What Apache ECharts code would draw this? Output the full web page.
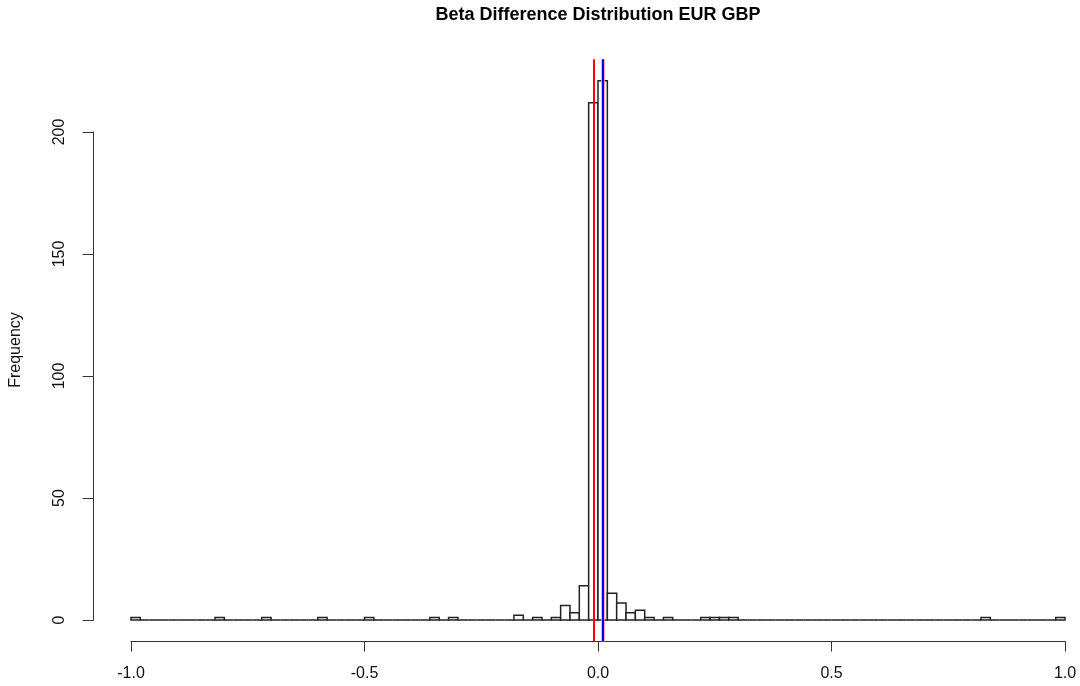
<!DOCTYPE html>
<html>
<head>
<meta charset="utf-8">
<script src="https://cdn.jsdelivr.net/npm/echarts@6/dist/echarts.min.js"></script>
<style>
  html, body { margin: 0; padding: 0; background: #fff; }
  #chart { width: 1080px; height: 686px; }
</style>
</head>
<body>
<div id="chart"></div>
<script>
// histogram bins: width 0.02 from -1 to 1
const binStart = -1
const binWidth = 0.02
const counts = [
  1, 0, 0, 0, 0, 0, 0, 0, 0, 1,
  0, 0, 0, 0, 1, 0, 0, 0, 0, 0,
  1, 0, 0, 0, 0, 1, 0, 0, 0, 0,
  0, 0, 1, 0, 1, 0, 0, 0, 0, 0,
  0, 2, 0, 1, 0, 1, 6, 3, 14, 212,
  221, 11, 7, 3, 4, 1, 0, 1, 0, 0,
  0, 1, 1, 1, 1, 0, 0, 0, 0, 0,
  0, 0, 0, 0, 0, 0, 0, 0, 0, 0,
  0, 0, 0, 0, 0, 0, 0, 0, 0, 0,
  0, 1, 0, 0, 0, 0, 0, 0, 0, 1
]
const xTicks = [-1, -0.5, 0, 0.5, 1]
const yTicks = [0, 50, 100, 150, 200]
// vertical reference lines (abline)
const redLines = [-0.010, 0.0065]
const blueLines = [0.0065]

const titleText = 'Beta Difference Distribution EUR GBP'
const yLabel = 'Frequency'

const binData = counts.map((c, i) => {
  const lo = +(binStart + i * binWidth).toFixed(2)
  return [lo, +(lo + binWidth).toFixed(2), c]
})

const FONT = 'Liberation Sans, Arial, Helvetica, sans-serif'

const chart = echarts.init(document.getElementById('chart'))

const option = {
  animation: false,
  backgroundColor: '#fff',
  grid: [
    // plot region (R usr coordinates, 4% padding)
    { left: 93.6, top: 59.2, width: 1008.8, height: 582.4, outerBoundsMode: 'none', containLabel: false },
    // x axis from -1 to 1
    { left: 131, top: 59.2, width: 934, height: 582.4, outerBoundsMode: 'none', containLabel: false },
    // y axis from 0 to 200
    { left: 93.6, top: 132, width: 100, height: 488, outerBoundsMode: 'none', containLabel: false }
  ],
  xAxis: [
    { gridIndex: 0, type: 'value', min: -1.08, max: 1.08, show: false },
    {
      gridIndex: 1, type: 'value', min: xTicks[0], max: xTicks[xTicks.length - 1], interval: 0.5,
      position: 'bottom',
      axisLine: { show: true, lineStyle: { color: '#333', width: 1 } },
      axisTick: { show: true, length: 10, inside: false, lineStyle: { color: '#333', width: 1 } },
      axisLabel: {
        show: true, margin: 24, color: '#111', fontSize: 16, fontFamily: FONT,
        formatter: v => v.toFixed(1),
        showMinLabel: true, showMaxLabel: true
      },
      splitLine: { show: false }
    },
    { gridIndex: 2, type: 'value', min: 0, max: 1, show: false }
  ],
  yAxis: [
    { gridIndex: 0, type: 'value', min: -8.84, max: 229.84, show: false },
    { gridIndex: 1, type: 'value', min: 0, max: 1, show: false },
    {
      gridIndex: 2, type: 'value', min: yTicks[0], max: yTicks[yTicks.length - 1], interval: 50,
      position: 'left',
      axisLine: { show: true, lineStyle: { color: '#333', width: 1 } },
      axisTick: { show: true, length: 11, inside: false, lineStyle: { color: '#333', width: 1 } },
      axisLabel: {
        show: true, margin: 26, rotate: 90, color: '#111', fontSize: 16, fontFamily: FONT,
        showMinLabel: true, showMaxLabel: true
      },
      splitLine: { show: false }
    }
  ],
  graphic: [
    {
      type: 'text', x: 598, y: 15,
      style: { text: titleText, font: 'bold 18px ' + FONT, fill: '#000', textAlign: 'center', textVerticalAlign: 'middle' }
    },
    {
      type: 'text', x: 16, y: 350, rotation: Math.PI / 2,
      style: { text: yLabel, font: '16px ' + FONT, fill: '#111', textAlign: 'center', textVerticalAlign: 'middle' }
    }
  ],
  series: [
    {
      type: 'custom',
      xAxisIndex: 0,
      yAxisIndex: 0,
      data: binData,
      encode: { x: [0, 1], y: 2 },
      clip: false,
      renderItem: (params, api) => {
        const p0 = api.coord([api.value(0), api.value(2)])
        const p1 = api.coord([api.value(1), 0])
        return {
          type: 'rect',
          shape: { x: p0[0], y: p0[1], width: p1[0] - p0[0], height: p1[1] - p0[1] },
          style: { fill: '#fff', stroke: '#222', lineWidth: 1.5 }
        }
      },
      markLine: {
        silent: true,
        symbol: ['none', 'none'],
        label: { show: false },
        animation: false,
        data: [
          ...redLines.map(v => ({ xAxis: v, lineStyle: { color: v === blueLines[0] ? '#ff9090' : '#ff0000', width: v === blueLines[0] ? 3.5 : 2, type: 'solid' } })),
          ...blueLines.map(v => ({ xAxis: v, lineStyle: { color: '#0000ff', width: 2, type: 'solid' } }))
        ]
      }
    }
  ]
}

chart.setOption(option)
</script>
</body>
</html>
